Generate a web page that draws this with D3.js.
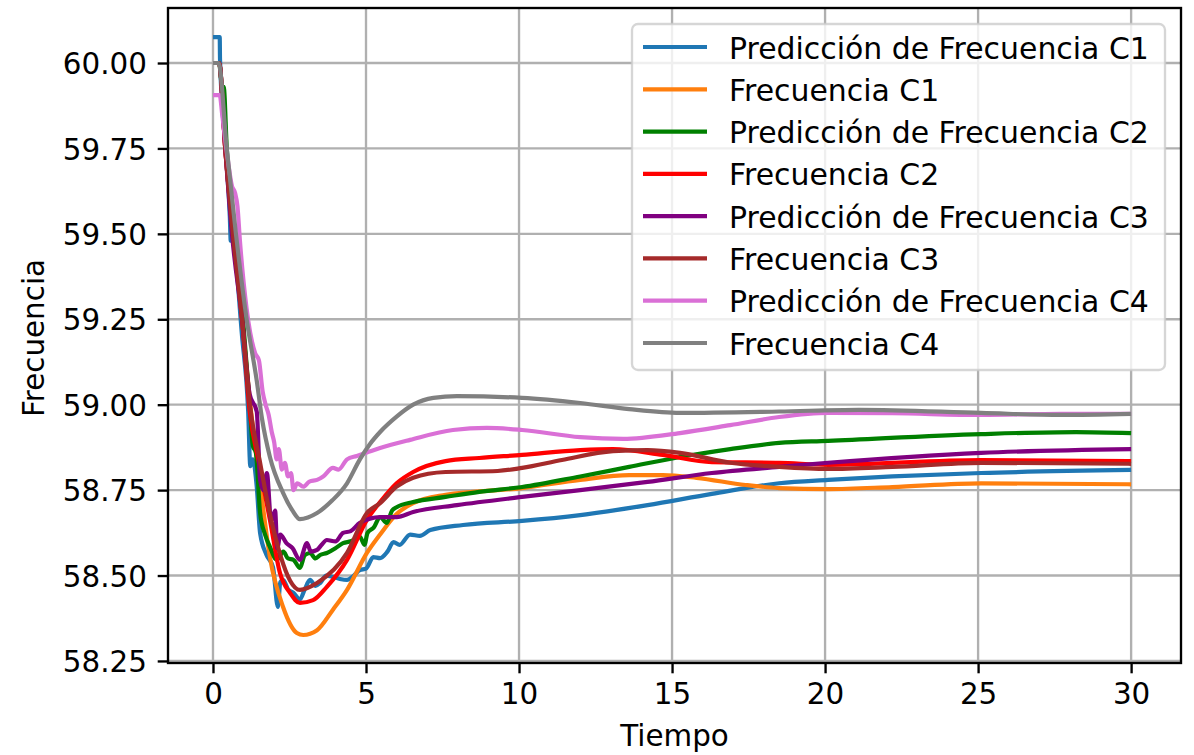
<!DOCTYPE html>
<html>
<head>
<meta charset="utf-8">
<script src="https://cdn.jsdelivr.net/npm/d3@7"></script>
<style>
  html, body { margin: 0; padding: 0; background: #ffffff; }
  svg { display: block; }
  text { font-family: "DejaVu Sans", sans-serif; fill: #000; }
</style>
</head>
<body>
<svg id="chart" width="1194" height="755"></svg>
<script>
// ---------------- data ----------------
const xTicks = [0, 5, 10, 15, 20, 25, 30];
const yTicks = [58.25, 58.50, 58.75, 59.00, 59.25, 59.50, 59.75, 60.00];
const seriesNames = [
  "Predicción de Frecuencia C1", "Frecuencia C1",
  "Predicción de Frecuencia C2", "Frecuencia C2",
  "Predicción de Frecuencia C3", "Frecuencia C3",
  "Predicción de Frecuencia C4", "Frecuencia C4"
];
const seriesColors = ["#1f77b4", "#ff7f0e", "#008000", "#ff0000", "#800080", "#a52a2a", "#da70d6", "#808080"];

const tPredC1 = [0,0.22,0.23,0.4,0.55,0.58,0.62,0.95,1.15,1.22,1.3,1.43,1.54,1.75,1.96,2.12,2.2,2.29,2.45,2.63,2.84,3.0,3.17,3.35,3.5,3.7,3.92,4.15,4.38,4.6,4.8,5.0,5.24,5.46,5.7,5.9,6.1,6.44,6.76,7.1,8.17,10.1,12.0,14.2,16.3,18.5,20.1,22.2,25.1,30];
const fPredC1 = [60.076,60.076,60.01,59.76,59.55,59.48,59.49,59.2,58.98,58.82,58.84,58.76,58.624,58.56,58.525,58.408,58.48,58.487,58.46,58.449,58.43,58.46,58.487,58.47,58.478,58.5,58.496,58.49,58.487,58.5,58.516,58.52,58.554,58.551,58.57,58.598,58.59,58.62,58.616,58.633,58.648,58.66,58.677,58.706,58.739,58.77,58.78,58.79,58.8,58.809];

const tFreqC1 = [0,0.2,0.4,0.65,0.95,1.22,1.55,1.86,2.29,2.74,2.95,3.4,3.92,4.38,5.03,5.46,6.0,6.54,7.6,10.1,12.0,13.6,14.7,15.8,17.4,18.5,20.1,22.2,25.1,30];
const fFreqC1 = [60,60,59.75,59.5,59.25,59.0,58.76,58.554,58.408,58.332,58.326,58.34,58.4,58.458,58.566,58.62,58.68,58.712,58.736,58.756,58.78,58.794,58.794,58.786,58.765,58.756,58.753,58.759,58.77,58.767];

const tPredC2 = [0,0.2,0.3,0.35,0.45,0.7,0.98,1.2,1.3,1.4,1.54,1.7,1.86,2.08,2.3,2.45,2.63,2.84,3.0,3.17,3.35,3.5,3.72,4.0,4.25,4.5,4.8,4.95,5.05,5.25,5.46,5.68,5.85,6.0,6.54,7.6,8.7,10.1,12.0,13.6,15.26,16.9,18.5,20.1,25.1,28.2,30];
const fPredC2 = [60,60,59.93,59.93,59.75,59.5,59.25,59.0,58.88,58.86,58.683,58.62,58.584,58.546,58.57,58.55,58.546,58.522,58.56,58.566,58.55,58.56,58.566,58.58,58.595,58.6,58.613,58.59,58.625,58.64,58.671,58.654,58.69,58.7,58.715,58.73,58.745,58.759,58.79,58.818,58.847,58.87,58.888,58.894,58.914,58.92,58.917];

const tFreqC2 = [0,0.2,0.4,0.65,0.95,1.2,1.5,1.86,2.19,2.52,2.84,3.27,3.72,4.38,5.03,5.46,6.0,6.54,7.6,8.7,10.1,12.0,13.07,14.7,16.3,18.5,20.1,25.1,30];
const fFreqC2 = [60,60,59.75,59.5,59.25,58.98,58.83,58.663,58.507,58.449,58.42,58.428,58.467,58.546,58.663,58.715,58.77,58.803,58.835,58.844,58.853,58.867,58.87,58.853,58.832,58.83,58.824,58.838,58.835];

const tPredC3 = [0,0.2,0.4,0.62,0.95,1.2,1.43,1.54,1.65,1.76,1.9,2.03,2.1,2.2,2.4,2.6,2.84,3.07,3.2,3.4,3.55,3.72,4.0,4.25,4.5,4.8,5.46,6.0,6.54,7.97,10.1,12.0,14.2,16.3,18.5,20.1,25.1,30];
const fPredC3 = [60,60,59.75,59.5,59.25,59.03,58.98,58.78,58.75,58.8,58.66,58.69,58.58,58.62,58.595,58.58,58.546,58.595,58.57,58.575,58.59,58.604,58.6,58.625,58.63,58.654,58.671,58.671,58.686,58.706,58.73,58.75,58.774,58.8,58.818,58.83,58.859,58.87];

const tFreqC3 = [0,0.2,0.4,0.65,0.95,1.22,1.54,1.86,2.2,2.52,2.84,3.4,4.38,5.03,5.46,6.0,6.54,7.6,9.3,10.1,11.4,13.07,14.2,15.26,16.9,18.5,20.1,22.2,25.1,30];
const fFreqC3 = [60,60,59.75,59.5,59.25,58.99,58.83,58.68,58.56,58.485,58.458,58.478,58.566,58.683,58.712,58.76,58.786,58.803,58.806,58.815,58.838,58.864,58.867,58.859,58.83,58.818,58.812,58.818,58.83,58.827];

const tPredC4 = [0,0.22,0.3,0.45,0.62,0.72,0.8,0.88,1.1,1.38,1.5,1.62,1.72,1.82,1.92,2.0,2.08,2.15,2.25,2.35,2.45,2.55,2.63,2.75,2.95,3.15,3.4,3.6,3.92,4.1,4.38,4.7,5.03,5.46,6.44,7.84,8.95,10.1,12.0,13.4,15.26,16.9,18.5,20.1,22.2,25.1,27.7,30];
const fPredC4 = [59.906,59.906,59.85,59.74,59.64,59.62,59.58,59.48,59.28,59.15,59.13,59.04,59.0,58.97,58.92,58.89,58.84,58.87,58.81,58.83,58.79,58.8,58.75,58.77,58.76,58.775,58.78,58.79,58.815,58.81,58.84,58.85,58.86,58.873,58.897,58.926,58.932,58.926,58.905,58.9,58.917,58.94,58.964,58.976,58.975,58.97,58.973,58.973];

const tFreqC4 = [0,0.18,0.45,0.75,1.1,1.43,1.6,1.86,2.29,2.6,2.84,3.1,3.4,3.9,4.38,4.8,5.13,5.46,6.0,6.54,7.2,7.97,10.1,12.0,13.6,15.26,18.5,21.1,25.1,27.7,30];
const fFreqC4 = [60,60,59.75,59.5,59.25,59.07,58.96,58.847,58.742,58.69,58.665,58.67,58.683,58.72,58.77,58.84,58.885,58.92,58.965,59.0,59.02,59.025,59.02,59.005,58.987,58.976,58.98,58.985,58.976,58.97,58.973];

const seriesT = [tPredC1, tFreqC1, tPredC2, tFreqC2, tPredC3, tFreqC3, tPredC4, tFreqC4];
const seriesF = [fPredC1, fFreqC1, fPredC2, fFreqC2, fPredC3, fFreqC3, fPredC4, fFreqC4];

// ---------------- layout ----------------
const svg = d3.select("#chart");
const L = 168, R = 1181, T = 8, B = 663;
const FS = 29.4, LFS = 29.9;
const lw = 4.2, gw = 2.35;

const x = d3.scaleLinear().domain([-1.47, 31.63]).range([L, R]);
const y = d3.scaleLinear().domain([58.244, 60.161]).range([B, T]);

// grid
const grid = svg.append("g");
grid.selectAll("line.vx").data(xTicks).enter().append("line")
  .attr("x1", d => x(d)).attr("x2", d => x(d)).attr("y1", T).attr("y2", B)
  .attr("stroke", "#b0b0b0").attr("stroke-width", gw);
grid.selectAll("line.hy").data(yTicks).enter().append("line")
  .attr("x1", L).attr("x2", R).attr("y1", d => y(d)).attr("y2", d => y(d))
  .attr("stroke", "#b0b0b0").attr("stroke-width", gw);

// lines
svg.append("clipPath").attr("id", "clip").append("rect")
  .attr("x", L).attr("y", T).attr("width", R - L).attr("height", B - T);
const lineGen = d3.line().x(d => x(d[0])).y(d => y(d[1])).curve(d3.curveMonotoneX);
const linesG = svg.append("g").attr("clip-path", "url(#clip)");
seriesNames.forEach((name, i) => {
  const pts = seriesT[i].map((t, k) => [t, seriesF[i][k]]);
  linesG.append("path").datum(pts)
    .attr("d", lineGen)
    .attr("fill", "none")
    .attr("stroke", seriesColors[i])
    .attr("stroke-width", lw)
    .attr("stroke-linejoin", "round")
    .attr("stroke-linecap", "butt");
});

// axes
const xAxis = d3.axisBottom(x).tickValues(xTicks).tickFormat(d3.format("d")).tickSize(10.3).tickPadding(10);
const yAxis = d3.axisLeft(y).tickValues(yTicks).tickFormat(d3.format(".2f")).tickSize(10.3).tickPadding(10);

const gx = svg.append("g").attr("transform", `translate(0,${B})`).call(xAxis);
gx.select(".domain").remove();
gx.selectAll(".tick line").attr("stroke", "#000").attr("stroke-width", gw);
gx.selectAll(".tick text").attr("font-size", FS).attr("font-family", "DejaVu Sans").attr("fill", "#000").attr("dy", "0.71em").attr("y", 20.5);

const gy = svg.append("g").attr("transform", `translate(${L},0)`).call(yAxis);
gy.select(".domain").remove();
gy.selectAll(".tick line").attr("stroke", "#000").attr("stroke-width", gw);
gy.selectAll(".tick text").attr("font-size", FS).attr("font-family", "DejaVu Sans").attr("fill", "#000").attr("x", -21).attr("dy", "0.36em");

// spines
svg.append("rect").attr("x", L).attr("y", T).attr("width", R - L).attr("height", B - T)
  .attr("fill", "none").attr("stroke", "#000").attr("stroke-width", gw);

// axis labels
svg.append("text").attr("x", (L + R) / 2).attr("y", 746).attr("text-anchor", "middle")
  .attr("font-size", FS).text("Tiempo");
svg.append("text").attr("transform", "translate(44,338) rotate(-90)").attr("text-anchor", "middle")
  .attr("font-size", FS).text("Frecuencia");

// legend
const lg = svg.append("g");
lg.append("rect").attr("x", 632).attr("y", 24).attr("width", 533).attr("height", 346)
  .attr("rx", 6).attr("ry", 6)
  .attr("fill", "#ffffff").attr("fill-opacity", 0.8)
  .attr("stroke", "#cccccc").attr("stroke-opacity", 0.8).attr("stroke-width", gw);
const rowY = d3.scaleLinear().domain([0, 7]).range([47, 343]);
seriesNames.forEach((name, i) => {
  const cy = rowY(i);
  lg.append("line").attr("x1", 643).attr("x2", 707).attr("y1", cy).attr("y2", cy)
    .attr("stroke", seriesColors[i]).attr("stroke-width", lw);
  lg.append("text").attr("x", 729).attr("y", cy + 11.5).attr("font-size", LFS).text(name);
});
</script>
</body>
</html>
